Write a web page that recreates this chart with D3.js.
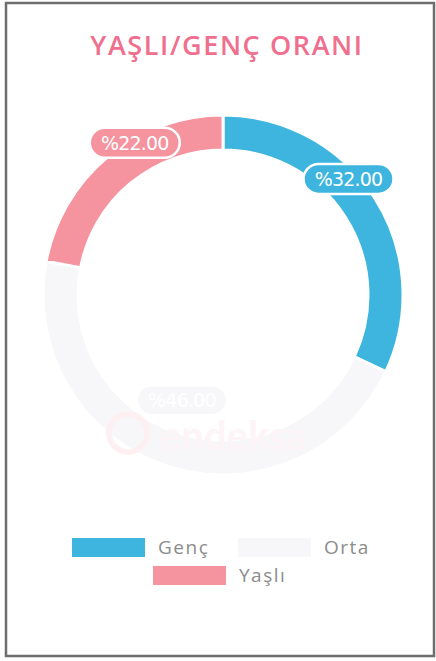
<!DOCTYPE html>
<html>
<head>
<meta charset="utf-8">
<script src="https://cdn.jsdelivr.net/npm/d3@7"></script>
<style>
  body { margin: 0; background: #ffffff; }
  svg { display: block; }
</style>
</head>
<body>
<div id="chart"></div>
<script>
// Yaşlı / genç oranı doughnut

const categories = ["Genç", "Orta", "Yaşlı"];
const values = [32, 46, 22];
const labels = ["%32.00", "%46.00", "%22.00"];
const colors = ["#3db5de", "#f7f7f9", "#f5939f"];

// where each value label sits: fraction along its arc, radius from centre
const labelFrac = [0.41, 0.52, 0.62];
const labelRad = [171, 113, 176];

const width = 436, height = 661;
const cx = 223, cy = 295;
const outerR = 180, innerR = 145;

const svg = d3.select("#chart")
    .append("svg")
    .attr("width", width)
    .attr("height", height);

// card frame
svg.append("rect")
    .attr("x", 6).attr("y", 3)
    .attr("width", 428).attr("height", 653)
    .attr("fill", "#ffffff")
    .attr("stroke", "#6e6e6e")
    .attr("stroke-width", 2.5);

// title
svg.append("text")
    .attr("x", 227).attr("y", 55)
    .attr("text-anchor", "middle")
    .attr("font-family", "'Open Sans', sans-serif")
    .attr("font-size", 27)
    .attr("font-weight", 600)
    .attr("letter-spacing", 1.6)
    .attr("fill", "#f06f8e")
    .text("YAŞLI/GENÇ ORANI");

const pie = d3.pie().sort(null).value(d => d)(values);

const arc = d3.arc()
    .innerRadius(innerR)
    .outerRadius(outerR);

const g = svg.append("g")
    .attr("transform", `translate(${cx},${cy})`);

g.selectAll("path.slice")
    .data(pie)
    .enter().append("path")
    .attr("class", "slice")
    .attr("d", arc)
    .attr("fill", (d, i) => colors[i])
    .attr("stroke", "#ffffff")
    .attr("stroke-width", 3);

// faint watermark over the ring
const wm = svg.append("g");
wm.append("circle")
    .attr("cx", 128).attr("cy", 433).attr("r", 19)
    .attr("fill", "none")
    .attr("stroke", "#fdf0f3")
    .attr("stroke-width", 6);
wm.append("text")
    .attr("x", 160).attr("y", 450)
    .attr("font-family", "Lato, sans-serif")
    .attr("font-size", 40)
    .attr("font-weight", 700)
    .attr("fill", "#fcf4f6")
    .text("endeksa");

// value pills
const pills = g.selectAll("g.pill")
    .data(pie)
    .enter().append("g")
    .attr("class", "pill")
    .attr("transform", (d, i) => {
        const a = d.startAngle + (d.endAngle - d.startAngle) * labelFrac[i];
        const r = labelRad[i];
        return `translate(${r * Math.sin(a)},${-r * Math.cos(a)})`;
    });

pills.append("rect")
    .attr("x", -45).attr("y", -15)
    .attr("width", 90).attr("height", 30)
    .attr("rx", 15)
    .attr("fill", (d, i) => colors[i])
    .attr("stroke", "#ffffff")
    .attr("stroke-width", 2.5);

pills.append("text")
    .attr("text-anchor", "middle")
    .attr("dy", "0.36em")
    .attr("font-family", "'DejaVu Sans', sans-serif")
    .attr("font-size", 19)
    .attr("letter-spacing", -0.8)
    .attr("fill", "#ffffff")
    .text((d, i) => labels[i]);

// legend
const legendPos = [[72, 538], [238, 538], [153, 566]];
const leg = svg.selectAll("g.legend")
    .data(categories)
    .enter().append("g")
    .attr("class", "legend")
    .attr("transform", (d, i) => `translate(${legendPos[i][0]},${legendPos[i][1]})`);

leg.append("rect")
    .attr("width", 73).attr("height", 19)
    .attr("fill", (d, i) => colors[i]);

leg.append("text")
    .attr("x", 86).attr("y", 16)
    .attr("font-family", "'Open Sans', sans-serif")
    .attr("font-size", 19)
    .attr("letter-spacing", 1.5)
    .attr("fill", "#8c8c8c")
    .text(d => d);
</script>
</body>
</html>
